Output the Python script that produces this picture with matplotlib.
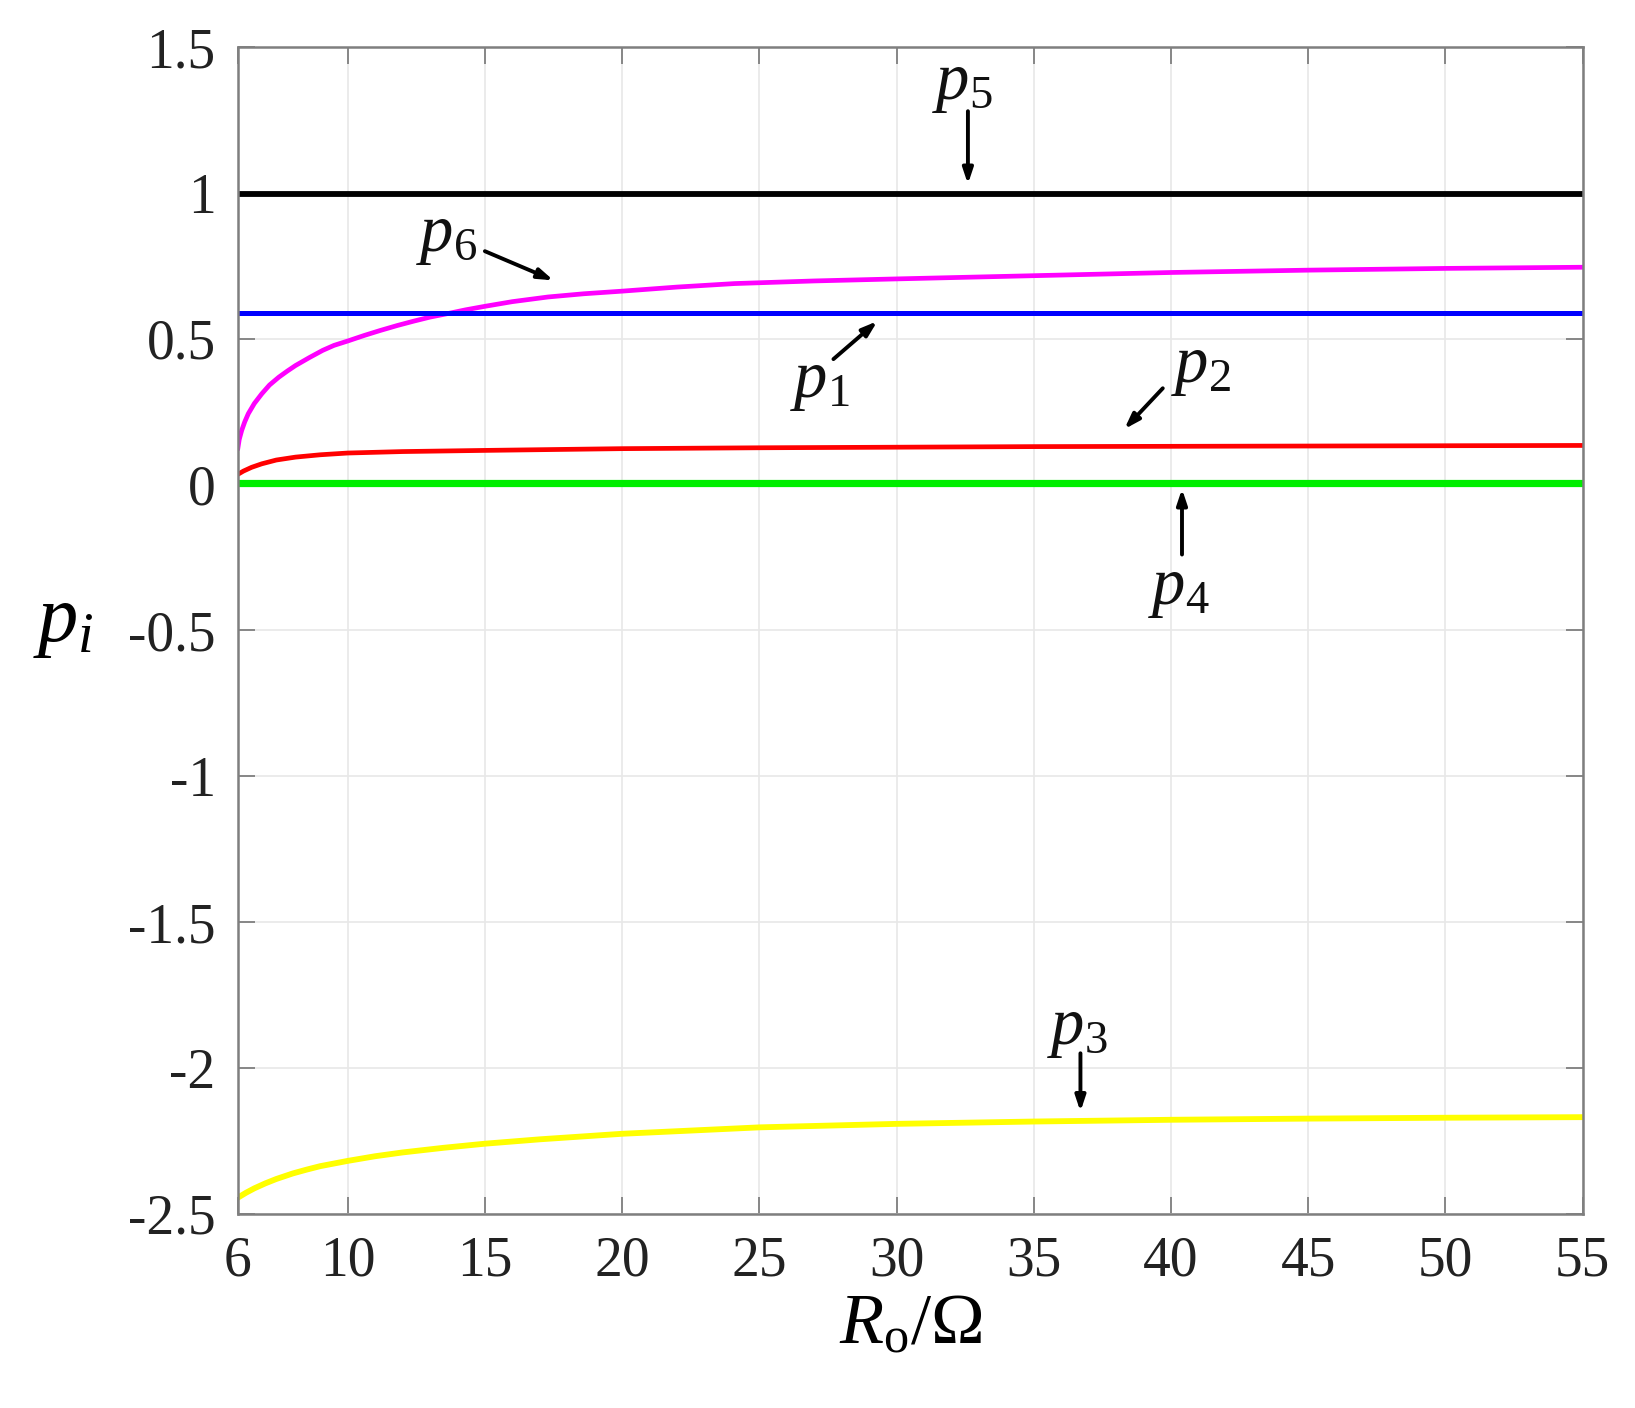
import matplotlib
matplotlib.use("Agg")
import matplotlib.pyplot as plt
import numpy as np

plt.rcParams['font.family'] = ['Liberation Serif', 'DejaVu Serif']
plt.rcParams['mathtext.fontset'] = 'custom'
plt.rcParams['mathtext.rm'] = 'Liberation Serif'
plt.rcParams['mathtext.it'] = 'Liberation Serif:italic'

# ---- data ----
x_p6 = [6, 6.05, 6.14, 6.25, 6.38, 6.6, 6.87, 7.15, 7.49, 7.8, 8.1, 8.6, 9.09, 9.5, 10, 10.6, 11.18, 11.8, 12.4, 13.0, 13.64, 14.3, 15, 16, 17.3, 18.6, 20, 22, 24.1, 27, 30, 35, 40, 45, 50, 55]
y_p6 = [0.125, 0.155, 0.186, 0.215, 0.243, 0.278, 0.311, 0.341, 0.368, 0.389, 0.408, 0.435, 0.46, 0.477, 0.492, 0.511, 0.528, 0.545, 0.56, 0.574, 0.586, 0.599, 0.611, 0.627, 0.643, 0.654, 0.663, 0.677, 0.689, 0.698, 0.705, 0.716, 0.727, 0.735, 0.741, 0.745]

x_p2 = [6, 6.2, 6.5, 6.87, 7.4, 8.1, 9, 10, 12, 15, 20, 25, 30, 35, 40, 45, 50, 55]
y_p2 = [0.035, 0.046, 0.059, 0.071, 0.084, 0.094, 0.102, 0.108, 0.113, 0.117, 0.123, 0.126, 0.128, 0.130, 0.131, 0.132, 0.133, 0.134]

x_p3 = [6, 6.3, 6.6, 7.0, 7.4, 8, 8.5, 9, 10, 11, 12, 13.5, 15, 17, 20, 25, 30, 35, 40, 45, 50, 55]
y_p3 = [-2.445, -2.428, -2.413, -2.396, -2.381, -2.362, -2.349, -2.337, -2.319, -2.303, -2.290, -2.274, -2.260, -2.245, -2.226, -2.204, -2.192, -2.184, -2.178, -2.174, -2.171, -2.169]

x_const = [6, 55]
y_p5 = [0.995, 0.995]
y_p1 = [0.589, 0.589]
y_p4 = [0.004, 0.004]

x_ticks = [6, 10, 15, 20, 25, 30, 35, 40, 45, 50, 55]
y_ticks = [-2.5, -2, -1.5, -1, -0.5, 0, 0.5, 1, 1.5]
y_ticklabels = ['-2.5', '-2', '-1.5', '-1', '-0.5', '0', '0.5', '1', '1.5']

# annotations: label, text position, arrow tail, arrow head
annots = [
    (r'$p_5$', (32.4, 1.37), (32.6, 1.28), (32.6, 1.03)),
    (r'$p_6$', (13.6, 0.85), (15.0, 0.80), (17.5, 0.70)),
    (r'$p_1$', (27.2, 0.35), (27.7, 0.43), (29.3, 0.56)),
    (r'$p_2$', (41.1, 0.40), (39.7, 0.33), (38.3, 0.19)),
    (r'$p_4$', (40.3, -0.36), (40.4, -0.24), (40.4, -0.015)),
    (r'$p_3$', (36.6, -1.87), (36.7, -1.95), (36.7, -2.15)),
]

fig = plt.figure(figsize=(16.35, 14.08), dpi=100)
ax = fig.add_axes([0.1455, 0.138, 0.8225, 0.8286])

ax.plot(x_const, y_p5, color='black', lw=4.2, solid_capstyle='butt')
ax.plot(x_p6, y_p6, color='#ff00ff', lw=3.4)
ax.plot(x_const, y_p1, color='#0000ff', lw=3.6, solid_capstyle='butt')
ax.plot(x_p2, y_p2, color='#ff0000', lw=3.4)
ax.plot(x_const, y_p4, color='#00ee00', lw=5.2, solid_capstyle='butt')
ax.plot(x_p3, y_p3, color='#ffff00', lw=4.2)

ax.set_xlim(6, 55)
ax.set_ylim(-2.5, 1.5)
ax.set_xticks(x_ticks)
ax.set_yticks(y_ticks)
ax.set_yticklabels(y_ticklabels)
ax.grid(True, color='#e8e8e8', lw=1.2)
ax.set_axisbelow(True)
for s in ax.spines.values():
    s.set_color('#7f7f7f')
    s.set_linewidth(1.8)
ax.tick_params(direction='in', length=12, width=1.3, color='#7f7f7f',
               top=True, right=True, labelsize=40, labelcolor='#222222', pad=16)

for lab, tpos, tail, head in annots:
    ax.text(tpos[0], tpos[1], lab, fontsize=48, ha='center', va='center', color='#111111')
    ax.annotate('', xy=head, xytext=tail,
                arrowprops=dict(arrowstyle='-|>,head_length=0.9,head_width=0.3',
                                color='black', lw=2.8, shrinkA=0, shrinkB=0))

ax.set_xlabel(r'$R_{\mathrm{o}}/\Omega$', fontsize=52, labelpad=4)
ax.set_ylabel(r'$p_i$', fontsize=58, rotation=0)
ax.yaxis.set_label_coords(-0.13, 0.475)

fig.savefig('out.png', dpi=100)
